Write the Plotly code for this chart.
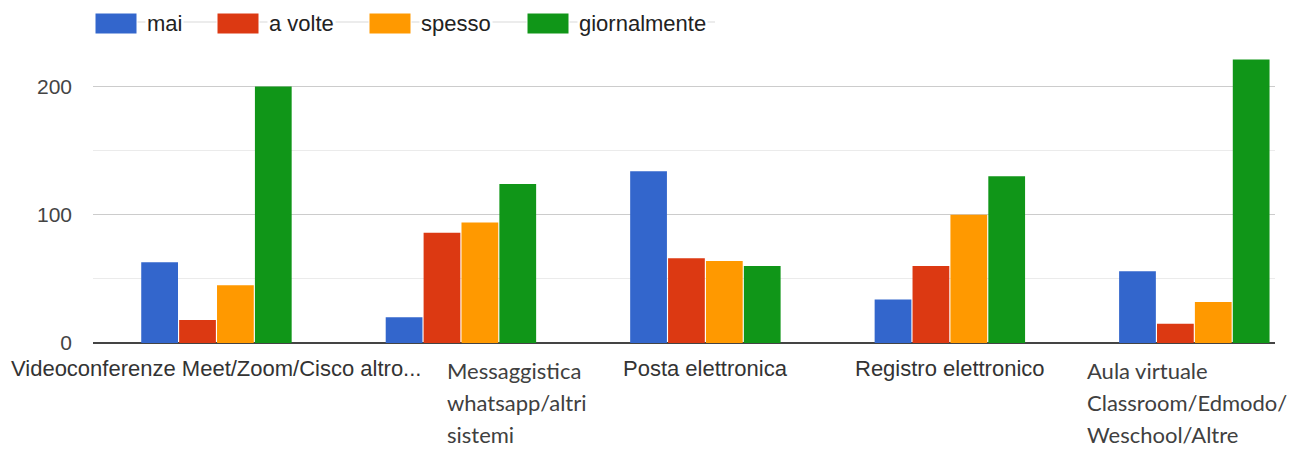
import plotly.graph_objects as go

# dati
categorie = [
    "Videoconferenze Meet/Zoom/Cisco altro...",
    "Messaggistica whatsapp/altri sistemi",
    "Posta elettronica",
    "Registro elettronico",
    "Aula virtuale Classroom/Edmodo/Weschool/Altre",
]
etichette = [
    ["Videoconferenze Meet/Zoom/Cisco altro..."],
    ["Messaggistica", "whatsapp/altri", "sistemi"],
    ["Posta elettronica"],
    ["Registro elettronico"],
    ["Aula virtuale", "Classroom/Edmodo/", "Weschool/Altre"],
]
serie = ["mai", "a volte", "spesso", "giornalmente"]
mai = [63, 20, 134, 34, 56]
a_volte = [18, 86, 66, 60, 15]
spesso = [45, 94, 64, 100, 32]
giornalmente = [200, 124, 60, 130, 221]
tick_y = [0, 100, 200]

valori = [mai, a_volte, spesso, giornalmente]
colori = ["#3366cc", "#dc3912", "#ff9900", "#109618"]

# la pagina ha un margine di 8px attorno al grafico
OFF = 8
W, H = 1293, 441
L, R, T, B = 85, 26, 40, 106
PW, PH = W - L - R, H - T - B
BASE = OFF + T + PH  # y della linea dello zero nella finestra


def px(x, y):
    # pixel della finestra -> paper
    return (x - OFF - L) / PW, (BASE - y) / PH


fig = go.Figure()
for nome, v, c in zip(serie, valori, colori):
    fig.add_trace(go.Bar(x=categorie, y=v, name=nome, marker_color=c,
                         marker_line_width=0, showlegend=False))

# legenda disegnata a mano (riquadri grandi come nell'originale)
shapes = []
annotations = []
x0, y0 = px(100, 22)
x1, _ = px(715, 22)
shapes.append(dict(type="line", xref="paper", yref="paper", x0=x0, x1=x1, y0=y0, y1=y0,
                   line=dict(color="#ececec", width=2), layer="below"))
leg_x = [95, 217, 369, 527]
for nome, c, bx in zip(serie, colori, leg_x):
    a, b = px(bx, 13)
    a2, b2 = px(bx + 42, 34)
    shapes.append(dict(type="rect", xref="paper", yref="paper", x0=a, x1=a2, y0=b2, y1=b,
                       fillcolor=c, line=dict(color="white", width=1)))
    tx, ty = px(bx + 50, 23)
    annotations.append(dict(xref="paper", yref="paper", x=tx, y=ty, text=nome, showarrow=False,
                            xanchor="left", yanchor="middle",
                            bgcolor="white",
                            font=dict(family="Liberation Sans, Arial", size=22, color="#222")))

# etichette delle categorie
spost = [0, -16, 0, 0, -109]
righe_y = [370, 402, 434]
for cat, righe, dx in zip(categorie, etichette, spost):
    if len(righe) == 1:
        annotations.append(dict(x=cat, xref="x", yref="paper", y=0, yshift=-(368 - BASE),
                                text=righe[0], showarrow=False, xanchor="center", yanchor="middle",
                                font=dict(family="Liberation Sans, Arial", size=22, color="#333")))
    else:
        for r, yy in zip(righe, righe_y):
            annotations.append(dict(x=cat, xref="x", yref="paper", y=0, yshift=-(yy - BASE),
                                    xshift=dx, text=r, showarrow=False, xanchor="left",
                                    yanchor="middle",
                                    font=dict(family="Lato", size=22, color="#404040")))

fig.update_layout(
    width=W, height=H,
    margin=dict(l=L, r=R, t=T, b=B),
    plot_bgcolor="white", paper_bgcolor="white",
    barmode="group", bargap=0.38, bargroupgap=0.03,
    shapes=shapes, annotations=annotations,
    xaxis=dict(type="category", range=[-0.505, 4.33], showticklabels=False,
               showgrid=False, zeroline=False, showline=False, fixedrange=True),
    yaxis=dict(range=[0, 230], tickvals=tick_y, ticks="",
               showgrid=True, gridcolor="#cccccc", gridwidth=1,
               minor=dict(dtick=50, showgrid=True, gridcolor="#ebebeb", gridwidth=1),
               zeroline=True, zerolinecolor="#444444", zerolinewidth=2,
               ticklabelstandoff=20,
               tickfont=dict(family="Liberation Sans, Arial", size=21, color="#444")),
)

fig.write_html("out.html")
